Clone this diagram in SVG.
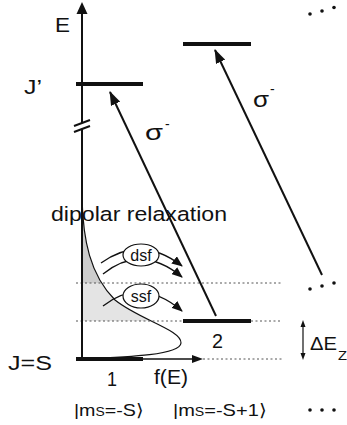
<svg xmlns="http://www.w3.org/2000/svg" width="347" height="425" viewBox="0 0 347 425">
<style>
text{font-family:"Liberation Sans",Arial,sans-serif;fill:#111}
.lvl{stroke:#111;stroke-width:4}
.ax{stroke:#111;stroke-width:2;fill:none}
.tr{stroke:#111;stroke-width:2;fill:none}
.dot{stroke:#555;stroke-width:1;stroke-dasharray:2 2.5;fill:none}
.rel{stroke:#111;stroke-width:1.3;fill:none}
.dots circle{fill:#111}
</style>
<defs>
<marker id="big" markerUnits="userSpaceOnUse" markerWidth="14" markerHeight="10" refX="13" refY="5" orient="auto">
<path d="M0,0 L14,5 L0,10 Z" fill="#111"/>
</marker>
<marker id="small" markerUnits="userSpaceOnUse" markerWidth="11" markerHeight="9" refX="10" refY="4.5" orient="auto">
<path d="M0,0 L11,4.5 L0,9 Z" fill="#111"/>
</marker>
<marker id="tiny" markerUnits="userSpaceOnUse" markerWidth="6" markerHeight="6" refX="5.5" refY="3" orient="auto">
<path d="M0,0 L6,3 L0,6 Z" fill="#111"/>
</marker>
<clipPath id="upper"><rect x="0" y="0" width="347" height="283"/></clipPath>
<clipPath id="lower"><rect x="0" y="283" width="347" height="38"/></clipPath>
</defs>

<g id="distribution">
<path d="M82,198 C83,240 90,275 115,300 C140,320 182,330 181,343 C180,355 130,357 82,359 Z" fill="#cdcdcd" stroke="none" clip-path="url(#upper)"/>
<path d="M82,198 C83,240 90,275 115,300 C140,320 182,330 181,343 C180,355 130,357 82,359 Z" fill="#e4e4e4" stroke="none" clip-path="url(#lower)"/>
<path d="M82,198 C83,240 90,275 115,300 C140,320 182,330 181,343 C180,355 130,357 82,359" fill="none" stroke="#111" stroke-width="1.2"/>
</g>

<g id="dotted-lines">
<line class="dot" x1="76" y1="283" x2="282" y2="283"/>
<line class="dot" x1="76" y1="321" x2="183" y2="321"/>
<line class="dot" x1="251" y1="321" x2="282" y2="321"/>
<line class="dot" x1="203" y1="359" x2="282" y2="359"/>
</g>

<g id="energy-axis">
<line class="ax" x1="82" y1="123" x2="82" y2="12"/>
<path d="M82,2 L76.5,14 L87.5,14 Z" fill="#111"/>
<line class="ax" x1="82" y1="129" x2="82" y2="359"/>
<line class="ax" x1="74" y1="126" x2="90" y2="120"/>
<line class="ax" x1="74" y1="132" x2="90" y2="126"/>
<text x="55" y="32" font-size="19.5" textLength="15" lengthAdjust="spacingAndGlyphs">E</text>
</g>

<g id="fE-axis">
<line x1="143" y1="359" x2="194" y2="359" stroke="#111" stroke-width="1.3"/>
<path d="M203,359 L192,355 L192,363 Z" fill="#111"/>
<text x="154" y="384" font-size="19.5" textLength="34" lengthAdjust="spacingAndGlyphs">f(E)</text>
</g>

<g id="level-Jprime">
<line class="lvl" x1="76" y1="84" x2="143" y2="84"/>
<text x="24" y="94" font-size="19.5" textLength="18" lengthAdjust="spacingAndGlyphs">J’</text>
</g>

<g id="level-Jprime-2">
<line class="lvl" x1="183" y1="44" x2="251" y2="44"/>
</g>

<g id="level-1">
<line class="lvl" x1="76" y1="359" x2="143" y2="359"/>
<text x="8" y="370" font-size="19.5" textLength="44" lengthAdjust="spacingAndGlyphs">J=S</text>
<text x="107" y="386" font-size="19.5" textLength="10" lengthAdjust="spacingAndGlyphs">1</text>
</g>

<g id="level-2">
<line class="lvl" x1="183" y1="321" x2="251" y2="321"/>
<text x="212" y="348" font-size="19.5" textLength="11" lengthAdjust="spacingAndGlyphs">2</text>
</g>

<g id="transitions">
<line class="tr" x1="216" y1="316" x2="110" y2="92" marker-end="url(#big)"/>
<line class="tr" x1="322" y1="275" x2="215" y2="50" marker-end="url(#big)"/>
<text x="145" y="140" font-size="22" textLength="18" lengthAdjust="spacingAndGlyphs">σ</text>
<text x="165" y="128.5" font-size="14">-</text>
<text x="253" y="107" font-size="22" textLength="16" lengthAdjust="spacingAndGlyphs">σ</text>
<text x="270" y="93.5" font-size="14">-</text>
</g>

<g id="relaxation">
<text x="51" y="221" font-size="20.5" textLength="176" lengthAdjust="spacingAndGlyphs">dipolar relaxation</text>
<path class="rel" d="M101,263 Q141,234 182,266" marker-end="url(#small)"/>
<path class="rel" d="M103,274 Q141,243 182,277" marker-end="url(#small)"/>
<path class="rel" d="M103,306 Q141,276 182,311" marker-end="url(#small)"/>
</g>

<g id="dsf">
<ellipse cx="141" cy="255" rx="18" ry="11" fill="#fff" stroke="#111" stroke-width="1.2"/>
<text x="141" y="261" font-size="16" text-anchor="middle">dsf</text>
</g>

<g id="ssf">
<ellipse cx="141" cy="296" rx="18" ry="12" fill="#fff" stroke="#111" stroke-width="1.2"/>
<text x="141" y="302" font-size="16" text-anchor="middle">ssf</text>
</g>

<g id="zeeman">
<line x1="303" y1="326" x2="303" y2="354" stroke="#111" stroke-width="1.2"/>
<path d="M303,320 L300.5,327 L305.5,327 Z" fill="#111"/>
<path d="M303,360 L300.5,353 L305.5,353 Z" fill="#111"/>
<text x="310" y="350" font-size="19" textLength="27" lengthAdjust="spacingAndGlyphs">ΔE</text>
<text x="338" y="360" font-size="13" textLength="9" lengthAdjust="spacingAndGlyphs">Z</text>
</g>

<g id="state-labels">
<text x="74" y="416" font-size="17" textLength="70" lengthAdjust="spacingAndGlyphs">|m<tspan font-size="12">S</tspan>=-S⟩</text>
<text x="173" y="416" font-size="17" textLength="94" lengthAdjust="spacingAndGlyphs">|m<tspan font-size="12">S</tspan>=-S+1⟩</text>
</g>

<g class="dots" id="ellipsis">
<circle cx="310" cy="14" r="1.8"/><circle cx="322" cy="11" r="1.8"/><circle cx="334" cy="7.5" r="1.8"/>
<circle cx="310" cy="289" r="1.8"/><circle cx="322" cy="286" r="1.8"/><circle cx="334" cy="283" r="1.8"/>
<circle cx="310" cy="410" r="1.8"/><circle cx="322" cy="410" r="1.8"/><circle cx="334" cy="410" r="1.8"/>
</g>
</svg>
